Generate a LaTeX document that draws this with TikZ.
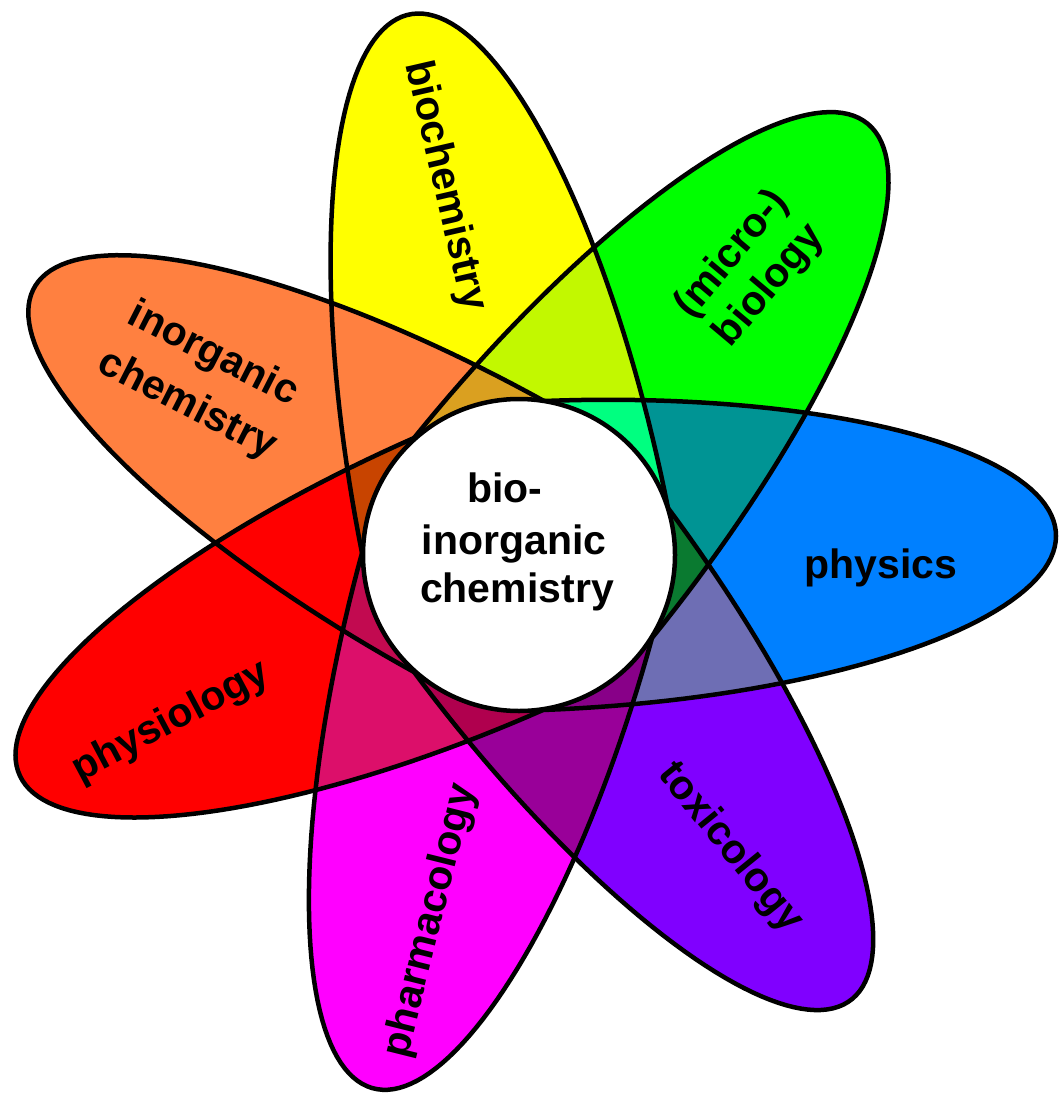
\documentclass[tikz,border=0pt]{standalone}
\usepackage{fontspec}
\setmainfont{Liberation Sans}
\definecolor{cY}{HTML}{FFFF00}
\definecolor{cG}{HTML}{00FF00}
\definecolor{cB}{HTML}{0080FF}
\definecolor{cP}{HTML}{8000FF}
\definecolor{cM}{HTML}{FF00FF}
\definecolor{cR}{HTML}{FF0000}
\definecolor{cO}{HTML}{FF8040}
\definecolor{cBG}{HTML}{009494}
\definecolor{cGY}{HTML}{C2F800}
\definecolor{cYO}{HTML}{FF8040}
\definecolor{cOR}{HTML}{FF0000}
\definecolor{cRM}{HTML}{DC0F6A}
\definecolor{cMP}{HTML}{990099}
\definecolor{cPB}{HTML}{6E6EB4}
\definecolor{cBGY}{HTML}{00FF80}
\definecolor{cGYO}{HTML}{DAA020}
\definecolor{cYOR}{HTML}{C84400}
\definecolor{cORM}{HTML}{C20A50}
\definecolor{cRMP}{HTML}{B0004E}
\definecolor{cMPB}{HTML}{880088}
\definecolor{cPBG}{HTML}{0A7A30}
\begin{document}
\begin{tikzpicture}[x=1pt,y=-1pt,
  outline/.style={line width=4.5pt,line join=round,line cap=round},
  lbl/.style={font=\fontsize{41}{49}\selectfont\bfseries,inner sep=0pt}]
\useasboundingbox[fill=white] (0,0) rectangle (1059,1094);
% each petal: half ellipse M + cos(t) A + sin(t) B, t=-90..90,
% from one contact point on the core circle, round the tip, to the other
\def\pY{plot[domain=-90:90,samples=91,variable=\t] ({515+cos(\t)*(-103)+sin(\t)*153},{530.5+cos(\t)*(-516.5)+sin(\t)*(-22.5)})}
\def\pG{plot[domain=-90:90,samples=91,variable=\t] ({533+cos(\t)*335+sin(\t)*119},{538+cos(\t)*(-414)+sin(\t)*100})}
\def\pB{plot[domain=-90:90,samples=91,variable=\t] ({543.5+cos(\t)*512.5+sin(\t)*(-0.5)},{555.5+cos(\t)*(-19.5)+sin(\t)*154.5})}
\def\pP{plot[domain=-90:90,samples=91,variable=\t] ({541+cos(\t)*307+sin(\t)*(-127)},{590+cos(\t)*412+sin(\t)*82})}
\def\pM{plot[domain=-90:90,samples=91,variable=\t] ({507+cos(\t)*(-135)+sin(\t)*(-145)},{595.5+cos(\t)*492.5+sin(\t)*(-42.5)})}
\def\pR{plot[domain=-90:90,samples=91,variable=\t] ({478.5+cos(\t)*(-458.5)+sin(\t)*(-64.5)},{574+cos(\t)*202+sin(\t)*(-136)})}
\def\pO{plot[domain=-90:90,samples=91,variable=\t] ({479+cos(\t)*(-446)+sin(\t)*65},{536.5+cos(\t)*(-246.5)+sin(\t)*(-135.5)})}
% pure colours
\fill[cY] \pY -- cycle;
\fill[cG] \pG -- cycle;
\fill[cB] \pB -- cycle;
\fill[cP] \pP -- cycle;
\fill[cM] \pM -- cycle;
\fill[cR] \pR -- cycle;
\fill[cO] \pO -- cycle;
% pair overlaps
\begin{scope}\clip \pB -- cycle; \fill[cBG] \pG -- cycle;\end{scope}
\begin{scope}\clip \pG -- cycle; \fill[cGY] \pY -- cycle;\end{scope}
\begin{scope}\clip \pY -- cycle; \fill[cYO] \pO -- cycle;\end{scope}
\begin{scope}\clip \pO -- cycle; \fill[cOR] \pR -- cycle;\end{scope}
\begin{scope}\clip \pR -- cycle; \fill[cRM] \pM -- cycle;\end{scope}
\begin{scope}\clip \pM -- cycle; \fill[cMP] \pP -- cycle;\end{scope}
\begin{scope}\clip \pP -- cycle; \fill[cPB] \pB -- cycle;\end{scope}
% triple overlaps
\begin{scope}\clip \pB -- cycle; \clip \pG -- cycle; \fill[cBGY] \pY -- cycle;\end{scope}
\begin{scope}\clip \pG -- cycle; \clip \pY -- cycle; \fill[cGYO] \pO -- cycle;\end{scope}
\begin{scope}\clip \pY -- cycle; \clip \pO -- cycle; \fill[cYOR] \pR -- cycle;\end{scope}
\begin{scope}\clip \pO -- cycle; \clip \pR -- cycle; \fill[cORM] \pM -- cycle;\end{scope}
\begin{scope}\clip \pR -- cycle; \clip \pM -- cycle; \fill[cRMP] \pP -- cycle;\end{scope}
\begin{scope}\clip \pM -- cycle; \clip \pP -- cycle; \fill[cMPB] \pB -- cycle;\end{scope}
\begin{scope}\clip \pP -- cycle; \clip \pB -- cycle; \fill[cPBG] \pG -- cycle;\end{scope}
% outlines
\draw[outline] \pY;
\draw[outline] \pG;
\draw[outline] \pB;
\draw[outline] \pP;
\draw[outline] \pM;
\draw[outline] \pR;
\draw[outline] \pO;
% central circle
\node[circle,draw,line width=4.5pt,fill=white,minimum size=312pt,inner sep=0pt] (core) at (519,555) {};
\node[lbl,anchor=base] (c1) at (505,502) {bio-};
\node[lbl,anchor=base] (c2) at (514,554) {inorganic};
\node[lbl,anchor=base] (c3) at (517,602) {chemistry};
% petal labels
\node[lbl,rotate=-77] (tBio) at (445,186) {biochemistry};
\node[lbl,rotate=50,align=center] (tMic) at (751,270) {(micro-)\\biology};
\node[lbl,anchor=base] (tPhys) at (881,578) {physics};
\node[lbl,rotate=-51] (tTox) at (730,848) {toxicology};
\node[lbl,rotate=76] (tPharm) at (431,921) {pharmacology};
\node[lbl,rotate=28] (tPhysio) at (171,722) {physiology};
\node[lbl,rotate=-27,align=center,font=\fontsize{41}{57}\selectfont\bfseries] (tIno) at (200,380) {inorganic\\chemistry};
\end{tikzpicture}
\end{document}
